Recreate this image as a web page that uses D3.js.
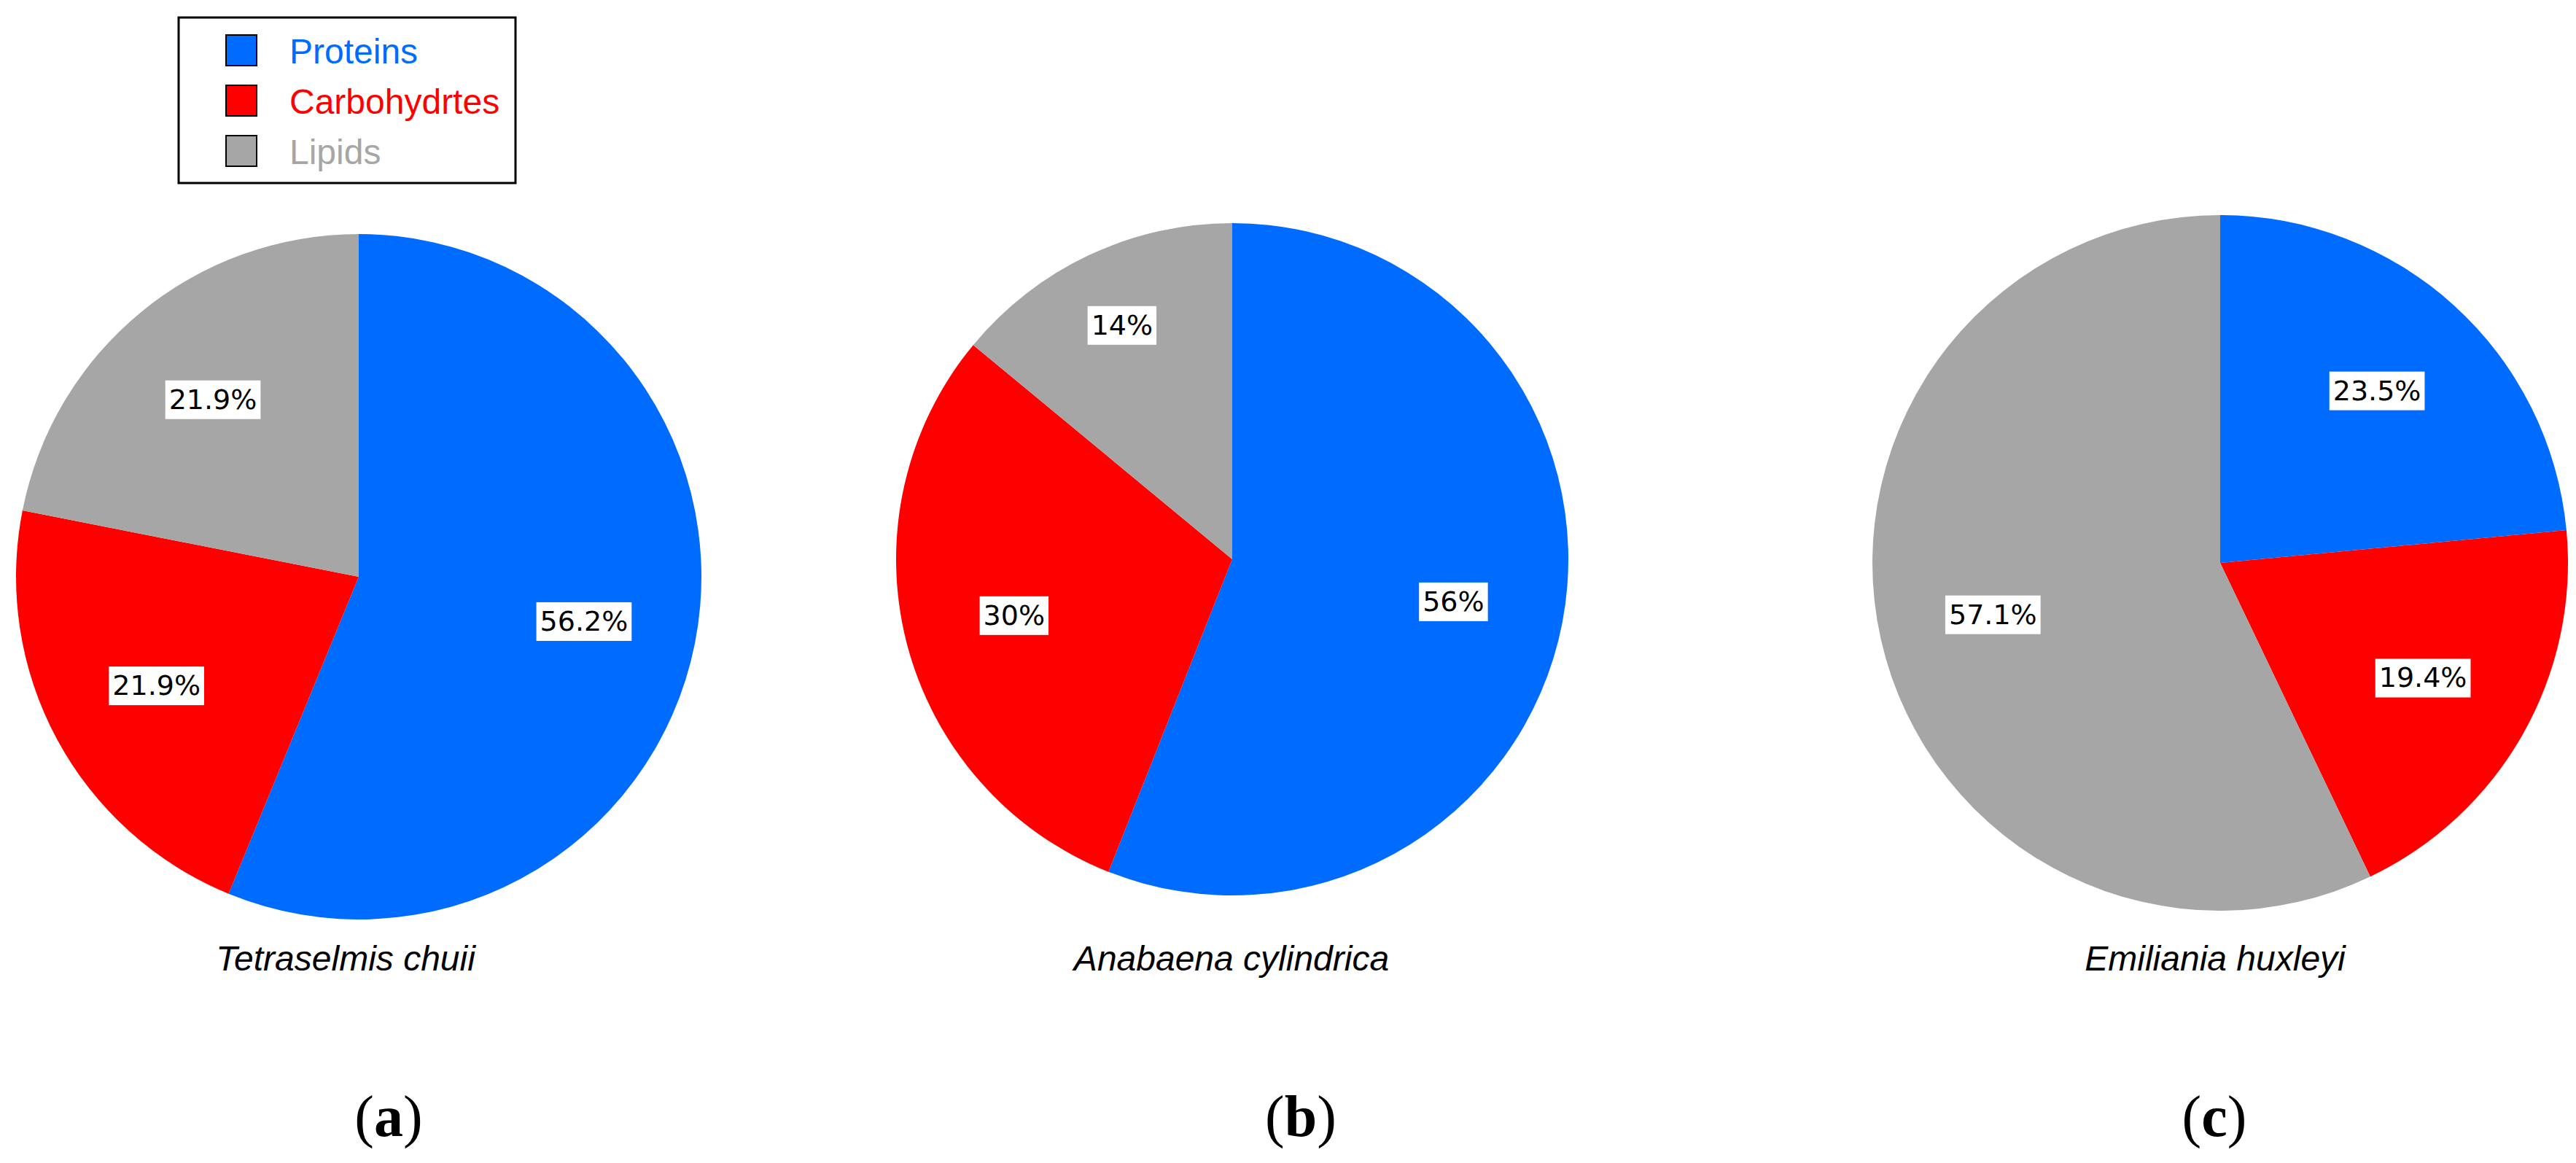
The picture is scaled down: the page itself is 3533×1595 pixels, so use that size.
<!DOCTYPE html>
<html>
<head>
<meta charset="utf-8">
<script src="https://cdn.jsdelivr.net/npm/d3@7"></script>
<style>
  html, body { margin: 0; padding: 0; background: #ffffff; }
  svg { display: block; }
</style>
</head>
<body>
<svg id="chart" width="3533" height="1595"></svg>
<script>
// ---- Data ----
const categories = ["Proteins", "Carbohydrtes", "Lipids"];
const species = ["Tetraselmis chuii", "Anabaena cylindrica", "Emiliania huxleyi"];
const panelLetters = ["a", "b", "c"];
const proteins = [56.2, 56, 23.5];
const carbohydrates = [21.9, 30, 19.4];
const lipids = [21.9, 14, 57.1];
const colors = ["#006BFF", "#FF0000", "#A6A6A6"];

// ---- Layout (positions only) ----
const panels = [
  { cx: 492,  cy: 791, r: 470, nameX: 474,  capX: 533 },
  { cx: 1690, cy: 767, r: 461, nameX: 1689, capX: 1784 },
  { cx: 3045, cy: 772, r: 477, nameX: 3038, capX: 3037 }
];

const svg = d3.select("#chart");
const color = d3.scaleOrdinal().domain(categories).range(colors);

const pie = d3.pie().sort(null).value(d => d.value).startAngle(0).endAngle(2 * Math.PI);

species.forEach((name, i) => {
  const p = panels[i];
  const rows = [
    { cat: categories[0], value: proteins[i] },
    { cat: categories[1], value: carbohydrates[i] },
    { cat: categories[2], value: lipids[i] }
  ];
  const arcs = pie(rows);
  const g = svg.append("g").attr("transform", `translate(${p.cx},${p.cy})`);
  const arc = d3.arc().innerRadius(0).outerRadius(p.r);

  g.selectAll("path.slice")
    .data(arcs)
    .join("path")
    .attr("class", "slice")
    .attr("d", arc)
    .attr("fill", d => color(d.data.cat));

  // value labels with white boxes
  arcs.forEach(d => {
    const share = d.data.value / d3.sum(rows, r => r.value);
    const k = share < 0.15 ? 0.77 : 0.67;
    const la = d3.arc().innerRadius(p.r * k).outerRadius(p.r * k);
    const [x, y] = la.centroid(d);
    const lg = g.append("g").attr("transform", `translate(${x},${y})`);
    const rect = lg.append("rect").attr("fill", "#ffffff");
    const t = lg.append("text")
      .attr("text-anchor", "middle")
      .attr("dominant-baseline", "central")
      .attr("font-family", "'DejaVu Sans', Verdana, sans-serif")
      .attr("font-size", 38)
      .attr("fill", "#000000")
      .text(d.data.value + "%");
    const bb = t.node().getBBox();
    rect.attr("x", bb.x - 5).attr("y", -26).attr("width", bb.width + 10).attr("height", 53);
  });

  // species names
  svg.append("text")
    .attr("x", p.nameX)
    .attr("y", 1331)
    .attr("text-anchor", "middle")
    .attr("font-family", "'Liberation Sans', Arial, sans-serif")
    .attr("font-style", "italic")
    .attr("font-size", 48)
    .attr("fill", "#000000")
    .text(name);

  // panel captions
  const cap = svg.append("text")
    .attr("x", p.capX)
    .attr("y", 1558)
    .attr("text-anchor", "middle")
    .attr("font-family", "'Liberation Serif', 'Times New Roman', serif")
    .attr("font-size", 80)
    .attr("fill", "#000000");
  cap.append("tspan").text("(");
  cap.append("tspan").attr("font-weight", "bold").text(panelLetters[i]);
  cap.append("tspan").text(")");
});

// ---- Legend ----
const legend = svg.append("g");
legend.append("rect")
  .attr("x", 245).attr("y", 24).attr("width", 462).attr("height", 227)
  .attr("fill", "#ffffff").attr("stroke", "#000000").attr("stroke-width", 3);

const ly = d3.scalePoint().domain(categories).range([69, 207]);
categories.forEach(c => {
  legend.append("rect")
    .attr("x", 310).attr("y", ly(c) - 21).attr("width", 42).attr("height", 42)
    .attr("fill", color(c)).attr("stroke", "#000000").attr("stroke-width", 2);
  legend.append("text")
    .attr("x", 397).attr("y", ly(c) + 18)
    .attr("font-family", "'Liberation Sans', Arial, sans-serif")
    .attr("font-size", 48)
    .attr("fill", color(c))
    .text(c);
});
</script>
</body>
</html>
